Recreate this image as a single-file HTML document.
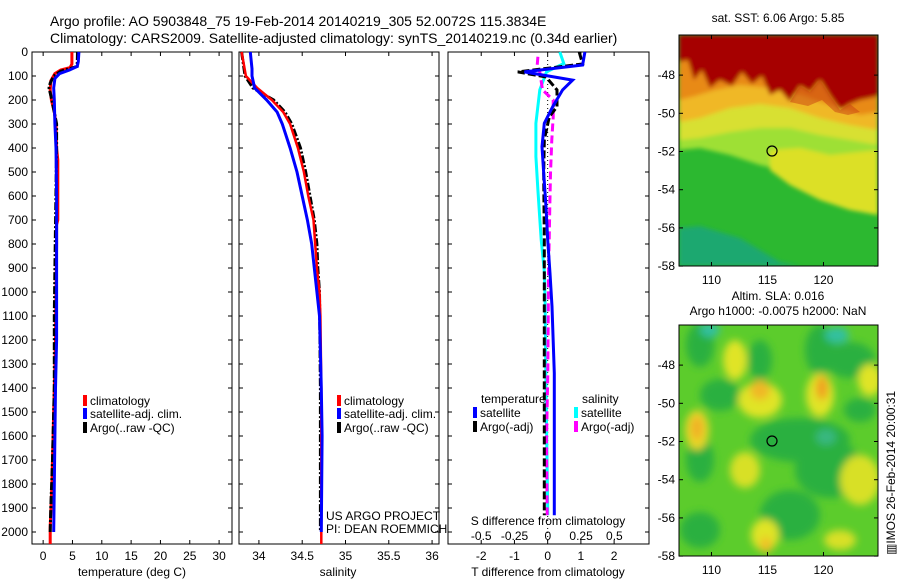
<!DOCTYPE html>
<html><head><meta charset="utf-8">
<style>
html,body{margin:0;padding:0;background:#fff;}
svg{display:block;font-family:"Liberation Sans",sans-serif;}
</style></head>
<body>
<svg id="fig" width="900" height="580" viewBox="0 0 900 580" xmlns="http://www.w3.org/2000/svg">
<defs>
<filter id="blur1" x="-5%" y="-5%" width="110%" height="110%"><feGaussianBlur stdDeviation="2"/></filter>
<filter id="blur2" x="-5%" y="-5%" width="110%" height="110%"><feGaussianBlur stdDeviation="4"/></filter>
<clipPath id="clipM1"><rect x="679" y="35" width="199" height="231"/></clipPath>
<clipPath id="clipM2"><rect x="679" y="325" width="199" height="231"/></clipPath>
</defs>
<text x="50" y="26" font-size="14">Argo profile: AO 5903848_75 19-Feb-2014 20140219_305 52.0072S 115.3834E</text>
<text x="50" y="43" font-size="14">Climatology: CARS2009. Satellite-adjusted climatology: synTS_20140219.nc (0.34d earlier)</text>

<g id="maps">
<g clip-path="url(#clipM1)">
<rect x="679" y="35" width="199" height="231" fill="#2cb830"/>
<g filter="url(#blur1)">
<polygon points="679,228 700,226 720,232 740,238 760,250 780,262 800,266 679,266" fill="#1ea870"/>
<polygon points="679,150 700,148 730,155 760,165 790,172 820,178 850,185 878,195 878,35 679,35" fill="#9ee034"/>
<polygon points="770,150 800,148 830,155 878,150 878,215 850,210 820,200 790,185 770,170" fill="#dce028"/>
<polygon points="679,140 700,138 730,132 760,128 790,128 820,135 850,140 878,145 878,35 679,35" fill="#d8e030"/>
<polygon points="679,122 700,118 730,108 760,104 790,108 820,118 850,125 878,130 878,35 679,35" fill="#f0b828"/>
<polygon points="679,100 695,96 715,90 740,85 770,88 800,95 830,105 860,115 878,112 878,35 679,35" fill="#e88a18"/>
<polygon points="679,62 688,60 694,80 702,70 710,88 720,80 732,86 742,72 752,84 762,76 770,95 780,90 790,102 800,86 810,92 820,80 830,96 840,110 850,104 860,100 870,98 878,96 878,35 679,35" fill="#a60000"/>
</g>
<polygon points="790,102 800,86 810,92 820,80 830,96 840,110 850,104 860,112 848,115 835,112 822,100 808,106" fill="#c84010" opacity="0.5"/>
</g>
<rect x="679" y="35" width="199" height="231" fill="none" stroke="#000" stroke-width="1"/>
<ellipse cx="772" cy="151" rx="5" ry="5" fill="none" stroke="#000" stroke-width="1.2"/>

<g clip-path="url(#clipM2)">
<rect x="679" y="325" width="199" height="231" fill="#5ccc2c"/>
<g filter="url(#blur2)">
<ellipse cx="700" cy="345" rx="14" ry="22" fill="#2cb040"/>
<ellipse cx="760" cy="360" rx="12" ry="20" fill="#2cb040"/>
<ellipse cx="820" cy="350" rx="15" ry="25" fill="#2cb040"/>
<ellipse cx="850" cy="360" rx="25" ry="18" fill="#2cb040"/>
<ellipse cx="720" cy="395" rx="20" ry="16" fill="#2cb040"/>
<ellipse cx="800" cy="440" rx="50" ry="22" fill="#2cb040"/>
<ellipse cx="830" cy="470" rx="35" ry="28" fill="#2cb040"/>
<ellipse cx="700" cy="460" rx="14" ry="22" fill="#2cb040"/>
<ellipse cx="790" cy="515" rx="30" ry="25" fill="#2cb040"/>
<ellipse cx="700" cy="530" rx="20" ry="18" fill="#2cb040"/>
<ellipse cx="860" cy="410" rx="16" ry="12" fill="#2cb040"/>
<ellipse cx="837" cy="335" rx="12" ry="8" fill="#30c0a0"/>
<ellipse cx="710" cy="330" rx="10" ry="7" fill="#30c0a0"/>
<ellipse cx="826" cy="437" rx="10" ry="8" fill="#38b880"/>
<ellipse cx="760" cy="400" rx="22" ry="18" fill="#e0e428"/>
<ellipse cx="735" cy="360" rx="12" ry="20" fill="#e0e428"/>
<ellipse cx="820" cy="395" rx="14" ry="22" fill="#e0e428"/>
<ellipse cx="870" cy="380" rx="12" ry="16" fill="#e0e428"/>
<ellipse cx="697" cy="430" rx="12" ry="20" fill="#e8d828"/>
<ellipse cx="860" cy="480" rx="20" ry="25" fill="#d8e028"/>
<ellipse cx="745" cy="470" rx="15" ry="18" fill="#d8e028"/>
<ellipse cx="765" cy="535" rx="14" ry="16" fill="#e0e428"/>
<ellipse cx="840" cy="540" rx="16" ry="10" fill="#d8e028"/>
<ellipse cx="760" cy="390" rx="10" ry="10" fill="#f0b828"/>
<ellipse cx="822" cy="388" rx="6" ry="12" fill="#f0a020"/>
<ellipse cx="697" cy="428" rx="6" ry="12" fill="#f0b028"/>
<ellipse cx="766" cy="545" rx="6" ry="8" fill="#f0c028"/>
</g>
</g>
<rect x="679" y="325" width="199" height="231" fill="none" stroke="#000" stroke-width="1"/>
<ellipse cx="772" cy="441" rx="5" ry="5" fill="none" stroke="#000" stroke-width="1.2"/>
<text x="778" y="22" font-size="12" text-anchor="middle">sat. SST: 6.06 Argo: 5.85</text>
<text x="778" y="300" font-size="12" text-anchor="middle">Altim. SLA: 0.016</text>
<text x="778" y="315" font-size="12" text-anchor="middle">Argo h1000: -0.0075 h2000: NaN</text>
<text transform="translate(895,555) rotate(-90)" font-size="12">▥IMOS 26-Feb-2014 20:00:31</text>
</g>
<g id="axes"></g>
<g id="series"></g>
<g id="legends"></g>
</svg>
<script>
// ---- data ----
const depthTicks = [0,100,200,300,400,500,600,700,800,900,1000,1100,1200,1300,1400,1500,1600,1700,1800,1900,2000];
const tempTicks = [0,5,10,15,20,25,30];
const salTicks = [34,34.5,35,35.5,36];
const salTickLabels = ["34","34.5","35","35.5","36"];
const tdiffTicks = [-2,-1,0,1,2];
const sdiffTicks = [-0.5,-0.25,0,0.25,0.5];
const sdiffTickLabels = ["-0.5","-0.25","0","0.25","0.5"];
const lonTicks = [110,115,120];
const latTicks = [-48,-50,-52,-54,-56,-58];

const tClimDepth = [0,50,65,75,90,120,160,200,250,300,400,450,700,720,800,1000,1200,1400,1600,1800,1980,2050];
const tClimVal   = [4.9,4.9,4.6,3.0,2.0,1.3,1.2,1.4,1.9,2.2,2.3,2.5,2.5,2.3,2.3,2.2,2.1,1.9,1.7,1.5,1.2,1.2];
const tSatDepth = [0,40,60,75,90,110,150,200,300,400,600,1000,1200,1400,1600,1800,2000];
const tSatVal   = [6.1,6.0,5.8,4.5,2.8,2.0,1.8,1.9,2.0,2.2,2.3,2.3,2.3,2.1,2.0,1.9,1.8];
const tArgoDepth = [0,60,80,100,130,150,200,300,400,900,1100,1400,1700,1900,2000];
const tArgoVal   = [5.85,5.8,3.0,1.8,1.2,1.0,1.5,2.3,2.3,2.0,1.9,1.9,1.6,1.3,1.2];

const sClimDepth = [0,100,150,200,250,300,400,500,600,700,800,900,1000,1100,1400,2050];
const sClimVal   = [33.80,33.85,33.98,34.15,34.28,34.36,34.45,34.52,34.57,34.63,34.65,34.67,34.70,34.71,34.72,34.72];
const sSatDepth = [0,70,100,150,200,250,300,400,500,600,700,800,900,1000,1100,1400,1600,2000];
const sSatVal   = [33.90,33.92,33.92,33.95,34.09,34.21,34.27,34.36,34.44,34.50,34.56,34.61,34.64,34.67,34.70,34.72,34.73,34.72];
const sArgoDepth = [0,100,150,200,250,300,400,500,600,700,800,900,1000,1400,2000];
const sArgoVal   = [33.80,33.84,33.93,34.17,34.30,34.38,34.48,34.54,34.59,34.64,34.67,34.68,34.70,34.71,34.71];

const dTSatDepth = [0,54,83,96,117,158,228,297,394,505,644,783,922,1060,1338,1930];
const dTSatVal   = [1.12,1.05,-0.7,-0.15,0.75,0.45,0.15,-0.1,-0.17,-0.12,-0.05,0.0,0.07,0.13,0.2,0.2];
const dTArgoDepth = [0,50,83,104,158,228,270,366,505,783,1060,1338,1930];
const dTArgoVal   = [0.95,1.05,-0.9,-0.05,0.28,0.28,0.05,-0.1,-0.12,-0.1,-0.1,-0.1,-0.1];
const dSSatDepth = [0,48,83,158,297,436,575,783,922,1060,1338,1930];
const dSSatVal   = [0.09,0.12,-0.01,-0.06,-0.09,-0.09,-0.075,-0.05,-0.025,-0.02,-0.015,0.0];
const dSArgoDepth = [20,56,83,158,200,270,366,505,644,783,922,1338,1616,1930];
const dSArgoVal   = [-0.075,-0.08,-0.06,-0.04,0.04,0.04,0.03,0.02,0.015,0.01,0.005,0.0,-0.01,-0.005];

// ---- layout ----
const P1 = {x0:32,x1:232,min:-1.9,max:32.2};
const P2 = {x0:239,x1:439,min:33.77,max:36.08};
const P3 = {x0:448,x1:649,min:-3.0,max:3.05};
const S3 = {min:-0.75,max:0.76};
const yTop=52, yBot=544;
const NS='http://www.w3.org/2000/svg';
const yD = d => yTop + d*0.24;
const xs = (p,v) => p.x0 + (v-p.min)/(p.max-p.min)*(p.x1-p.x0);
const xS3 = v => P3.x0 + (v-S3.min)/(S3.max-S3.min)*(P3.x1-P3.x0);
function el(tag,attrs,parent){const e=document.createElementNS(NS,tag);for(const k in attrs)e.setAttribute(k,attrs[k]);parent.appendChild(e);return e;}
const axes=document.getElementById('axes'), series=document.getElementById('series'), legends=document.getElementById('legends');

[P1,P2,P3].forEach((p,i)=>{
  const r=el('rect',{x:p.x0,y:yTop,width:p.x1-p.x0,height:yBot-yTop,fill:'none',stroke:'#000','stroke-width':1},axes);
  
  
  depthTicks.forEach(d=>{
    el('line',{x1:p.x0,x2:p.x0+4,y1:yD(d),y2:yD(d),stroke:'#000'},axes);
    el('line',{x1:p.x1,x2:p.x1-4,y1:yD(d),y2:yD(d),stroke:'#000'},axes);
  });
});
depthTicks.forEach(d=>{
  const t=el('text',{x:28,y:yD(d)+4,'font-size':12,'text-anchor':'end'},axes);
  t.textContent=d;
  
  
});
function xTicks(p,ticks,labels,fx,yLab){
  ticks.forEach((v,i)=>{
    const x=fx(v);
    el('line',{x1:x,x2:x,y1:yBot,y2:yBot-4,stroke:'#000'},axes);
    el('line',{x1:x,x2:x,y1:yTop,y2:yTop+4,stroke:'#000'},axes);
    const t=el('text',{x:x,y:yLab,'font-size':12,'text-anchor':'middle'},axes);
    t.textContent=labels?labels[i]:v;
    
    
  });
}
xTicks(P1,tempTicks,null,v=>xs(P1,v),560);
xTicks(P2,salTicks,salTickLabels,v=>xs(P2,v),560);
xTicks(P3,tdiffTicks,null,v=>xs(P3,v),560);
sdiffTicks.forEach((v,i)=>{
  const t=el('text',{x:xS3(v),y:540,'font-size':12,'text-anchor':'middle'},axes);
  t.textContent=sdiffTickLabels[i];
  
  
});
function lab(txt,x,y,name,anchor){const t=el('text',{x:x,y:y,'font-size':12,'text-anchor':anchor||'middle'},axes);t.textContent=txt;return t;}
lab('temperature (deg C)',132,576,'x-axis-title-temperature');
lab('salinity',338,576,'x-axis-title-salinity');
lab('T difference from climatology',548,576,'x-axis-title-t-diff');
lab('S difference from climatology',548,525,'x-axis-title-s-diff');
lab('US ARGO PROJECT',326,520,'project-label','start');
lab('PI: DEAN ROEMMICH',326,533,'pi-label','start');
el('line',{x1:xs(P3,0),x2:xs(P3,0),y1:yTop,y2:yBot,stroke:'#000','stroke-dasharray':'1,3'},axes);

// map ticks
const mx = lon => 679 + (lon-107.1)*11.2;
const my = (lat,off) => off + (-45.9-lat)*19.1;
[35,325].forEach(off=>{
  lonTicks.forEach(l=>{
    el('line',{x1:mx(l),x2:mx(l),y1:off,y2:off+4,stroke:'#000'},axes);
    el('line',{x1:mx(l),x2:mx(l),y1:off+231,y2:off+227,stroke:'#000'},axes);
    const t=el('text',{x:mx(l),y:off+249,'font-size':12,'text-anchor':'middle'},axes);
    t.textContent=l;
    
    
  });
  latTicks.forEach(l=>{
    el('line',{x1:878,x2:874,y1:my(l,off),y2:my(l,off),stroke:'#000'},axes);
    el('line',{x1:679,x2:683,y1:my(l,off),y2:my(l,off),stroke:'#000'},axes);
    const t=el('text',{x:675,y:my(l,off)+4,'font-size':12,'text-anchor':'end'},axes);
    t.textContent=l;
    
    
  });
});

function line(dep,val,fx,color,w,dash,name){
  let d='';
  for(let i=0;i<dep.length;i++){d+=(i?'L':'M')+fx(val[i]).toFixed(1)+','+yD(dep[i]).toFixed(1);}
  const p=el('path',{d:d,fill:'none',stroke:color,'stroke-width':w},series);
  if(dash)p.setAttribute('stroke-dasharray',dash);
  
  
}
const f1=v=>xs(P1,v), f2=v=>xs(P2,v), f3=v=>xs(P3,v);
line(tClimDepth,tClimVal,f1,'#ff0000',3,null,'temp-climatology-line');
line(tArgoDepth,tArgoVal,f1,'#000',3,'8,2,2,2','temp-argo-line');
line(tSatDepth,tSatVal,f1,'#0000ff',3,null,'temp-satellite-line');
line(sArgoDepth,sArgoVal,f2,'#000',3,'8,2,2,2','sal-argo-line');
line(sClimDepth,sClimVal,f2,'#ff0000',2.5,null,'sal-climatology-line');
line(sSatDepth,sSatVal,f2,'#0000ff',3,null,'sal-satellite-line');
line(dSSatDepth,dSSatVal,xS3,'#00ffff',3,null,'s-diff-satellite-line');
line(dSArgoDepth,dSArgoVal,xS3,'#ff00ff',3,'8,4','s-diff-argo-line');
line(dTArgoDepth,dTArgoVal,f3,'#000',3,'8,3','t-diff-argo-line');
line(dTSatDepth,dTSatVal,f3,'#0000ff',3,null,'t-diff-satellite-line');

function legendEntry(x,y,color,txt){
  const r=el('rect',{x:x,y:y-9,width:4,height:11,fill:color},legends);
  
  
  const t=el('text',{x:x+7,y:y+1,'font-size':12},legends);
  t.textContent=txt;
  
  
}
legendEntry(83,404,'#ff0000','climatology');
legendEntry(83,417,'#0000ff','satellite-adj. clim.');
legendEntry(83,431,'#000','Argo(..raw -QC)');
legendEntry(337,404,'#ff0000','climatology');
legendEntry(337,417,'#0000ff','satellite-adj. clim.');
legendEntry(337,431,'#000','Argo(..raw -QC)');
lab('temperature',481,403,'legend-title-temperature','start');
lab('salinity',582,403,'legend-title-salinity','start');
legendEntry(473,416,'#0000ff','satellite');
legendEntry(473,430,'#000','Argo(-adj)');
legendEntry(574,416,'#00ffff','satellite');
legendEntry(574,430,'#ff00ff','Argo(-adj)');
</script>
</body></html>
